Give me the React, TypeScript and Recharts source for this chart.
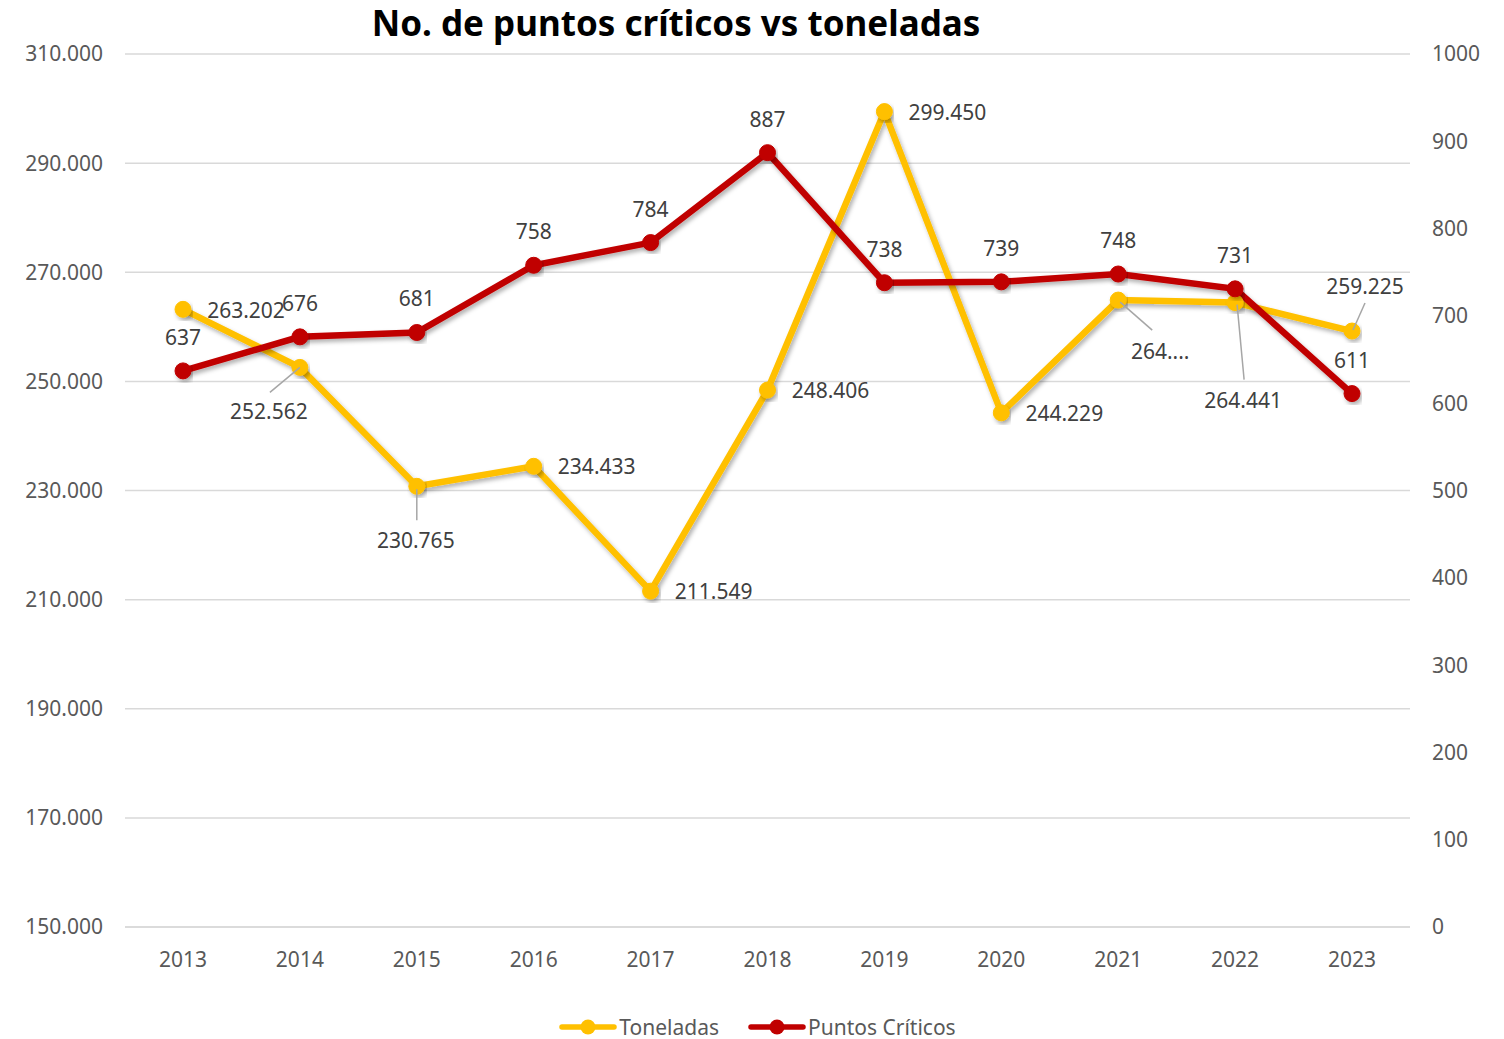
import { CartesianGrid, Legend, Line, LineChart, XAxis, YAxis } from "recharts";

const years = ["2013", "2014", "2015", "2016", "2017", "2018", "2019", "2020", "2021", "2022", "2023"];
const toneladas = [263202, 252562, 230765, 234433, 211549, 248406, 299450, 244229, 264900, 264441, 259225];
const toneladasLabels = ["263.202", "252.562", "230.765", "234.433", "211.549", "248.406", "299.450", "244.229", "264....", "264.441", "259.225"];
const puntos = [637, 676, 681, 758, 784, 887, 738, 739, 748, 731, 611];
const leftTicks = [150000, 170000, 190000, 210000, 230000, 250000, 270000, 290000, 310000];
const rightTicks = [0, 100, 200, 300, 400, 500, 600, 700, 800, 900, 1000];

const data = years.map((year, i) => ({ year, toneladas: toneladas[i], puntos: puntos[i] }));

// label placement relative to each point: [dx, dy]
const toneOffsets = [[63, 1], [-31, 44], [-1, 54], [63, 0], [63, 0], [63, 0], [63, 0], [63, 0], [42, 51], [8, 97], [13, -45]];
// leader lines [x1, y1, x2, y2] relative to point
const toneLeaders: (number[] | null)[] = [null, [0, 0, -30, 25], [0, 3, 0, 34], null, null, null, null, null, [2, 2, 34, 30], [2, 2, 9, 77], [13, -28, 1, -1]];

const YELLOW = "#FFC000";
const RED = "#C00000";
const FONT = "'Noto Sans', 'Open Sans', sans-serif";
const FS = 21;

const fmt = (v: number) => String(v).replace(/\B(?=(\d{3})+(?!\d))/g, ".");

function ToneladasLabel(props: any) {
  const { x, y, index } = props;
  const [dx, dy] = toneOffsets[index];
  const l = toneLeaders[index];
  return (
    <g>
      {l && <line x1={x + l[0]} y1={y + l[1]} x2={x + l[2]} y2={y + l[3]} stroke="#A6A6A6" strokeWidth={1.5} />}
      <text x={x + dx} y={y + dy} textAnchor="middle" dominantBaseline="central" fontSize={FS} fill="#404040" fontFamily={FONT}>
        {toneladasLabels[index]}
      </text>
    </g>
  );
}

function PuntosLabel(props: any) {
  const { x, y, value } = props;
  return (
    <text x={x} y={y - 34} textAnchor="middle" dominantBaseline="central" fontSize={FS} fill="#404040" fontFamily={FONT}>
      {value}
    </text>
  );
}

function LegendIcon({ color }: { color: string }) {
  return (
    <svg width={58} height={18} style={{ display: "block" }}>
      <line x1={3} y1={9} x2={55} y2={9} stroke={color} strokeWidth={5.5} strokeLinecap="round" />
      <circle cx={29} cy={9} r={7.5} fill={color} />
    </svg>
  );
}

function renderLegend() {
  const items = [
    { name: "Toneladas", color: YELLOW },
    { name: "Puntos Críticos", color: RED },
  ];
  return (
    <div style={{ display: "flex", justifyContent: "center", alignItems: "center", height: 24, gap: 29 }}>
      {items.map((it) => (
        <div key={it.name} style={{ display: "flex", alignItems: "center", gap: 2 }}>
          <LegendIcon color={it.color} />
          <span style={{ fontSize: FS, color: "#595959", fontFamily: FONT }}>{it.name}</span>
        </div>
      ))}
    </div>
  );
}

export default function App() {
  return (
    <div style={{ position: "relative", width: 1488, height: 1031, fontFamily: FONT }}>
      <div
        style={{
          position: "absolute",
          top: -9,
          left: 0,
          width: 1336,
          textAlign: "center",
          fontSize: 35,
          fontWeight: 700,
          color: "#000",
          fontFamily: FONT,
        }}
      >
        No. de puntos críticos vs toneladas
      </div>
      <LineChart width={1488} height={1031} data={data} margin={{ top: 46, right: 6, bottom: 0, left: 17 }}>
        <defs>
          <filter id="shadow" x="-10%" y="-10%" width="120%" height="130%">
            <feDropShadow dx={2} dy={3} stdDeviation={2} floodColor="#000" floodOpacity={0.3} />
          </filter>
        </defs>
        <CartesianGrid yAxisId="left" vertical={false} stroke="#D9D9D9" strokeWidth={1.5} />
        <XAxis
          dataKey="year"
          height={88}
          padding={{ left: 58, right: 58 }}
          tickSize={0}
          tickMargin={25}
          axisLine={{ stroke: "#D9D9D9", strokeWidth: 1.5 }}
          tick={{ fontSize: FS, fill: "#595959", fontFamily: FONT }}
        />
        <YAxis
          yAxisId="left"
          width={100}
          domain={[150000, 310000]}
          ticks={leftTicks}
          tickFormatter={fmt}
          axisLine={false}
          tickLine={false}
          tickSize={0}
          tickMargin={22}
          tick={{ fontSize: FS, fill: "#595959", fontFamily: FONT }}
        />
        <YAxis
          yAxisId="right"
          orientation="right"
          width={80}
          domain={[0, 1000]}
          ticks={rightTicks}
          axisLine={false}
          tickLine={false}
          tickSize={0}
          tickMargin={22}
          tick={{ fontSize: FS, fill: "#595959", fontFamily: FONT, textAnchor: "start" }}
        />
        <Legend verticalAlign="bottom" content={renderLegend} />
        <Line
          yAxisId="left"
          dataKey="toneladas"
          name="Toneladas"
          stroke={YELLOW}
          strokeWidth={6.5}
          dot={{ r: 8, fill: YELLOW, stroke: YELLOW, strokeWidth: 1 }}
          activeDot={false}
          label={(p: any) => <ToneladasLabel {...p} />}
          filter="url(#shadow)"
          isAnimationActive={false}
        />
        <Line
          yAxisId="right"
          dataKey="puntos"
          name="Puntos Críticos"
          stroke={RED}
          strokeWidth={6.5}
          dot={{ r: 8, fill: RED, stroke: RED, strokeWidth: 1 }}
          activeDot={false}
          label={(p: any) => <PuntosLabel {...p} />}
          filter="url(#shadow)"
          isAnimationActive={false}
        />
      </LineChart>
    </div>
  );
}
